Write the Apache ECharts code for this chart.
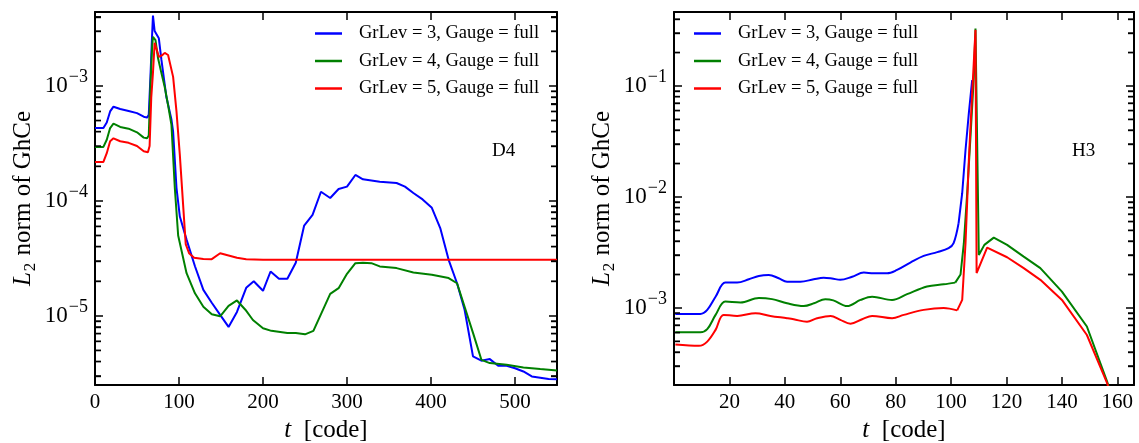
<!DOCTYPE html>
<html>
<head>
<meta charset="utf-8">
<script src="https://cdn.jsdelivr.net/npm/echarts@6/dist/echarts.min.js"></script>
<style>
  html, body { margin: 0; padding: 0; background: #ffffff; }
  #chart { width: 1139px; height: 443px; }
</style>
</head>
<body>
<div id="chart"></div>
<script>
// Series labels and colours shared by both panels
const seriesNames = ['GrLev = 3, Gauge = full', 'GrLev = 4, Gauge = full', 'GrLev = 5, Gauge = full'];
const seriesColors = ['#0000ff', '#008000', '#ff0000'];

// ---- D4 run: L2 norm of GhCe versus t ----
const d4TimeLev3 = [0, 10, 14, 18, 22, 30, 40, 50, 58, 62, 64, 66, 68, 69, 71, 73, 76, 79, 85, 91, 93, 97, 101, 109, 119, 129, 139, 149, 159, 169, 180, 189, 200, 209, 219, 229, 239, 249, 259, 269, 280, 290, 300, 310, 319, 339, 359, 369, 379, 390, 401, 411, 421, 431, 440, 450, 460, 470, 480, 490, 500, 510, 520, 540, 550];
const d4NormLev3 = [4.3e-4, 4.3e-4, 4.8e-4, 6.0e-4, 6.6e-4, 6.3e-4, 6.05e-4, 5.8e-4, 5.4e-4, 5.3e-4, 5.6e-4, 1.2e-3, 2.8e-3, 4.1e-3, 3.0e-3, 3.1e-3, 2.6e-3, 1.7e-3, 8.0e-4, 5.1e-4, 4.0e-4, 1.3e-4, 7.3e-5, 4.6e-5, 2.7e-5, 1.68e-5, 1.3e-5, 1.02e-5, 8.0e-6, 1.08e-5, 1.75e-5, 2.0e-5, 1.65e-5, 2.43e-5, 2.1e-5, 2.1e-5, 2.9e-5, 6.1e-5, 7.55e-5, 1.2e-4, 1.06e-4, 1.27e-4, 1.33e-4, 1.68e-4, 1.54e-4, 1.47e-4, 1.43e-4, 1.33e-4, 1.17e-4, 1.03e-4, 8.7e-5, 5.8e-5, 3.07e-5, 1.92e-5, 1.13e-5, 4.43e-6, 4.07e-6, 4.2e-6, 3.67e-6, 3.67e-6, 3.5e-6, 3.28e-6, 2.97e-6, 2.82e-6, 2.8e-6];

const d4TimeLev4 = [0, 10, 14, 18, 22, 30, 40, 50, 58, 62, 64, 66, 68, 69, 72, 75, 79, 83, 87, 91, 95, 99, 109, 119, 129, 139, 149, 159, 169, 179, 188, 200, 210, 229, 239, 250, 260, 270, 280, 290, 300, 310, 319, 329, 339, 359, 379, 401, 421, 431, 440, 450, 460, 470, 490, 510, 530, 550];
const d4NormLev4 = [2.95e-4, 2.95e-4, 3.4e-4, 4.3e-4, 4.7e-4, 4.4e-4, 4.25e-4, 3.95e-4, 3.55e-4, 3.5e-4, 3.7e-4, 1.0e-3, 2.2e-3, 2.67e-3, 2.5e-3, 1.75e-3, 1.3e-3, 9.8e-4, 6.8e-4, 4.6e-4, 1.3e-4, 5.0e-5, 2.35e-5, 1.57e-5, 1.2e-5, 1.03e-5, 9.9e-6, 1.22e-5, 1.36e-5, 1.13e-5, 9.2e-6, 7.8e-6, 7.4e-6, 7.08e-6, 7.08e-6, 6.9e-6, 7.4e-6, 1.07e-5, 1.55e-5, 1.74e-5, 2.32e-5, 2.87e-5, 2.9e-5, 2.87e-5, 2.69e-5, 2.6e-5, 2.38e-5, 2.28e-5, 2.13e-5, 1.92e-5, 1.2e-5, 7.1e-6, 4.14e-6, 3.88e-6, 3.75e-6, 3.55e-6, 3.44e-6, 3.34e-6];

const d4TimeLev5 = [0, 10, 14, 18, 22, 30, 40, 50, 58, 63, 65, 67, 69, 71, 76, 80, 83, 87, 93, 97, 101, 105, 108, 112, 118, 129, 139, 149, 159, 169, 180, 200, 300, 400, 550];
const d4NormLev5 = [2.18e-4, 2.18e-4, 2.6e-4, 3.3e-4, 3.5e-4, 3.3e-4, 3.2e-4, 3.0e-4, 2.7e-4, 2.65e-4, 3.0e-4, 8.0e-4, 1.3e-3, 2.37e-3, 1.79e-3, 1.85e-3, 1.94e-3, 1.86e-3, 1.2e-3, 6.0e-4, 2.5e-4, 9.0e-5, 4.2e-5, 3.5e-5, 3.2e-5, 3.12e-5, 3.11e-5, 3.5e-5, 3.35e-5, 3.2e-5, 3.1e-5, 3.07e-5, 3.07e-5, 3.07e-5, 3.07e-5];

// ---- H3 run: L2 norm of GhCe versus t ----
const h3TimeLev3 = [0.5, 9.5, 12, 15, 18.5, 22.8, 27, 30.6, 34.2, 37.8, 40.8, 45.6, 50.4, 54, 57, 60, 64.3, 68.5, 72, 76.9, 80.5, 85.3, 90.1, 95, 99.1, 100.9, 102.7, 104, 105.2, 106.4, 107.6];
const h3NormLev3 = [8.83e-4, 8.83e-4, 9.6e-4, 1.26e-3, 1.69e-3, 1.69e-3, 1.81e-3, 1.94e-3, 1.98e-3, 1.85e-3, 1.72e-3, 1.72e-3, 1.81e-3, 1.87e-3, 1.84e-3, 1.79e-3, 1.91e-3, 2.08e-3, 2.05e-3, 2.05e-3, 2.2e-3, 2.56e-3, 2.94e-3, 3.18e-3, 3.45e-3, 3.83e-3, 5.8e-3, 1.08e-2, 2.65e-2, 5.7e-2, 0.113];

const h3TimeLev4 = [0.5, 9.5, 12, 15, 18.5, 24, 30.6, 35.4, 40.8, 46.8, 50.5, 54.6, 57.5, 62.5, 67.3, 71.5, 78.7, 84.1, 91.3, 97.3, 101.5, 103.4, 104.6, 105.8, 107, 108.2, 108.8, 110, 112, 115.4, 120.2, 126.2, 132.2, 140, 149, 156.3, 157];
const h3NormLev4 = [6.04e-4, 6.04e-4, 6.43e-4, 8.65e-4, 1.14e-3, 1.12e-3, 1.23e-3, 1.2e-3, 1.1e-3, 1.04e-3, 1.1e-3, 1.2e-3, 1.17e-3, 1.04e-3, 1.18e-3, 1.26e-3, 1.18e-3, 1.33e-3, 1.56e-3, 1.63e-3, 1.69e-3, 2.0e-3, 3.83e-3, 1.08e-2, 3.5e-2, 0.121, 0.33, 3.0e-3, 3.7e-3, 4.3e-3, 3.7e-3, 2.9e-3, 2.28e-3, 1.4e-3, 6.8e-4, 2.17e-4, 1.9e-4];

const h3TimeLev5 = [0.5, 9, 12, 15, 17.9, 22.8, 29.4, 34.8, 40.8, 43.2, 48, 51.6, 56.5, 60, 63.7, 67.9, 71.5, 78.7, 82.9, 90.1, 97.3, 102.2, 104, 105.2, 106.4, 107.6, 108.8, 109.2, 113, 120.2, 126.2, 132.2, 140, 149, 156.3, 156.8];
const h3NormLev5 = [4.68e-4, 4.55e-4, 4.97e-4, 6.34e-4, 8.65e-4, 8.47e-4, 8.95e-4, 8.47e-4, 8.07e-4, 7.9e-4, 7.5e-4, 8.07e-4, 8.47e-4, 7.8e-4, 7.2e-4, 7.9e-4, 8.47e-4, 8.07e-4, 8.65e-4, 9.6e-4, 1.0e-3, 9.5e-4, 1.18e-3, 3.83e-3, 2.15e-2, 8.6e-2, 0.32, 2.06e-3, 3.5e-3, 2.86e-3, 2.28e-3, 1.79e-3, 1.18e-3, 5.7e-4, 2.1e-4, 1.9e-4];

// Smooth pre-spike stretch of each H3 curve ends at this time; the spike and decay are drawn as straight segments
const h3SmoothEnd = 101.5;

// Decade ticks carrying labels
const d4Decades = [1e-5, 1e-4, 1e-3];
const h3Decades = [1e-3, 1e-2, 1e-1];

const FONT = '"Liberation Serif", "DejaVu Serif", serif';
const BLACK = '#000000';

function pairs(ts, vs) { return ts.map((t, i) => [t, vs[i]]); }

// Minor log ticks at 2..9 times each decade inside (min, max)
function minorLogTicks(min, max) {
  const out = [];
  for (let e = Math.floor(Math.log10(min)); e <= Math.ceil(Math.log10(max)); e++) {
    for (let m = 2; m <= 9; m++) {
      const v = m * Math.pow(10, e);
      if (v > min && v < max) out.push(v);
    }
  }
  return out;
}

function decadeLabel(v) {
  const e = Math.round(Math.log10(v));
  return '{b|10}{s|' + (e < 0 ? '\u2212' + (-e) : e) + '}';
}

const yTitle = '{i|L}{sub|2}{n| norm of GhCe}';
const yTitleRich = {
  i: { fontFamily: FONT, fontSize: 25, fontStyle: 'italic', color: BLACK, lineHeight: 28, verticalAlign: 'top' },
  sub: { fontFamily: FONT, fontSize: 17, color: BLACK, lineHeight: 17, verticalAlign: 'bottom', padding: [10, 1, 0, 1] },
  n: { fontFamily: FONT, fontSize: 25, color: BLACK, lineHeight: 28, verticalAlign: 'top' }
};
const xTitle = '{i|t}{n|  [code]}';
const xTitleRich = {
  i: { fontFamily: FONT, fontSize: 25, fontStyle: 'italic', color: BLACK },
  n: { fontFamily: FONT, fontSize: 25, color: BLACK }
};

// Per panel: labelled left axis, mirrored right axis, and two tick-only axes for the minor decade ticks
function yAxesFor(gridIndex, min, max, decades) {
  const minors = minorLogTicks(min, max);
  const base = {
    type: 'log', logBase: 10, gridIndex, min, max,
    splitLine: { show: false },
    axisLine: { show: true, onZero: false, lineStyle: { color: BLACK, width: 2 } },
    axisTick: { show: true, inside: true, length: 8, lineStyle: { color: BLACK, width: 1.5 }, customValues: decades }
  };
  const minorTick = { show: true, inside: true, length: 6, lineStyle: { color: BLACK, width: 1.4 }, customValues: minors };
  return [
    Object.assign({}, base, {
      position: 'left',
      axisLabel: {
        customValues: decades, margin: 7, formatter: decadeLabel,
        rich: {
          b: { fontFamily: FONT, fontSize: 23, color: BLACK, lineHeight: 23, verticalAlign: 'bottom' },
          s: { fontFamily: FONT, fontSize: 18, color: BLACK, lineHeight: 18, verticalAlign: 'bottom', padding: [0, 0, 11, 1] }
        }
      },
      name: yTitle, nameLocation: 'middle', nameGap: 56, nameRotate: 90,
      nameTextStyle: { rich: yTitleRich }
    }),
    Object.assign({}, base, { position: 'right', axisLabel: { show: false } }),
    Object.assign({}, base, { position: 'left', axisLine: { show: false, onZero: false }, axisTick: minorTick, axisLabel: { show: false } }),
    Object.assign({}, base, { position: 'right', axisLine: { show: false, onZero: false }, axisTick: minorTick, axisLabel: { show: false } })
  ];
}

function xAxesFor(gridIndex, min, max, interval, showMinLabel) {
  const base = {
    type: 'value', gridIndex, min, max, interval,
    splitLine: { show: false },
    axisLine: { show: true, onZero: false, lineStyle: { color: BLACK, width: 2 } },
    axisTick: { show: true, inside: true, length: 8, lineStyle: { color: BLACK, width: 1.5 } }
  };
  return [
    Object.assign({}, base, {
      position: 'bottom',
      axisLabel: { fontFamily: FONT, fontSize: 21, color: BLACK, margin: 7, showMinLabel, showMaxLabel: false },
      name: xTitle, nameLocation: 'middle', nameGap: 22,
      nameTextStyle: { rich: xTitleRich }
    }),
    Object.assign({}, base, { position: 'top', axisLabel: { show: false } })
  ];
}

const panels = [
  { xMin: 0, xMax: 550, xStep: 100, yMin: 2.5e-6, yMax: 4.4e-3, decades: d4Decades, showMin: true },
  { xMin: 0, xMax: 166, xStep: 20, yMin: 2.02e-4, yMax: 0.464, decades: h3Decades, showMin: false }
];

const grids = [
  { left: 95, top: 12, width: 462, height: 373, outerBoundsMode: 'none' },
  { left: 674, top: 12, width: 460, height: 373, outerBoundsMode: 'none' }
];

const xAxis = [].concat(
  xAxesFor(0, panels[0].xMin, panels[0].xMax, panels[0].xStep, panels[0].showMin),
  xAxesFor(1, panels[1].xMin, panels[1].xMax, panels[1].xStep, panels[1].showMin));
const yAxis = [].concat(
  yAxesFor(0, panels[0].yMin, panels[0].yMax, panels[0].decades),
  yAxesFor(1, panels[1].yMin, panels[1].yMax, panels[1].decades));

// x axes: 2 per panel; y axes: 4 per panel
function lineSeries(k, gi, data, smooth) {
  return {
    type: 'line', name: seriesNames[k], xAxisIndex: gi * 2, yAxisIndex: gi * 4,
    data, symbol: 'none', showSymbol: false, smooth,
    lineStyle: { color: seriesColors[k], width: 2 },
    itemStyle: { color: seriesColors[k] },
    clip: true, z: 3 + k
  };
}

// H3 curves: smooth section up to h3SmoothEnd, then straight segments from that point on
function h3Series(k, ts, vs) {
  const all = pairs(ts, vs);
  const cut = ts.findIndex(t => t >= h3SmoothEnd);
  const head = cut < 0 ? all : all.slice(0, cut + 1);
  const out = [lineSeries(k, 1, head, 0.35)];
  if (cut >= 0) out.push(lineSeries(k, 1, all.slice(cut), false));
  return out;
}

// Minor log ticks also drawn as short bars sitting on the left and right frame edges
function minorTickSeries(gi, p) {
  const minors = minorLogTicks(p.yMin, p.yMax);
  const common = {
    type: 'scatter', xAxisIndex: gi * 2, yAxisIndex: gi * 4, silent: true, clip: false, z: 20,
    symbol: 'rect', symbolSize: [6, 1.4], itemStyle: { color: BLACK, opacity: 1 },
    emphasis: { disabled: true }, tooltip: { show: false }
  };
  return [
    Object.assign({}, common, { data: minors.map(v => [p.xMin, v]), symbolOffset: [3, 0] }),
    Object.assign({}, common, { data: minors.map(v => [p.xMax, v]), symbolOffset: [-3, 0] })
  ];
}

const series = [
  lineSeries(0, 0, pairs(d4TimeLev3, d4NormLev3), false),
  lineSeries(1, 0, pairs(d4TimeLev4, d4NormLev4), false),
  lineSeries(2, 0, pairs(d4TimeLev5, d4NormLev5), false)
].concat(
  h3Series(0, h3TimeLev3, h3NormLev3), h3Series(1, h3TimeLev4, h3NormLev4), h3Series(2, h3TimeLev5, h3NormLev5),
  minorTickSeries(0, panels[0]), minorTickSeries(1, panels[1]));

function legendAt(left) {
  return {
    left, top: 24, padding: 0, orient: 'vertical', selectedMode: false,
    icon: 'rect', itemWidth: 27, itemHeight: 2.5, itemGap: 8.5,
    textStyle: { fontFamily: FONT, fontSize: 18.5, color: BLACK, padding: [0, 0, 0, 12] },
    data: seriesNames
  };
}

const chart = echarts.init(document.getElementById('chart'), null, { renderer: 'canvas' });
chart.setOption({
  animation: false,
  backgroundColor: '#ffffff',
  grid: grids,
  xAxis, yAxis, series,
  legend: [legendAt(315), legendAt(694)],
  graphic: [
    { type: 'text', left: 492, top: 142, style: { text: 'D4', font: '19px ' + FONT, fill: BLACK } },
    { type: 'text', left: 1072, top: 142, style: { text: 'H3', font: '19px ' + FONT, fill: BLACK } }
  ]
});
</script>
</body>
</html>
